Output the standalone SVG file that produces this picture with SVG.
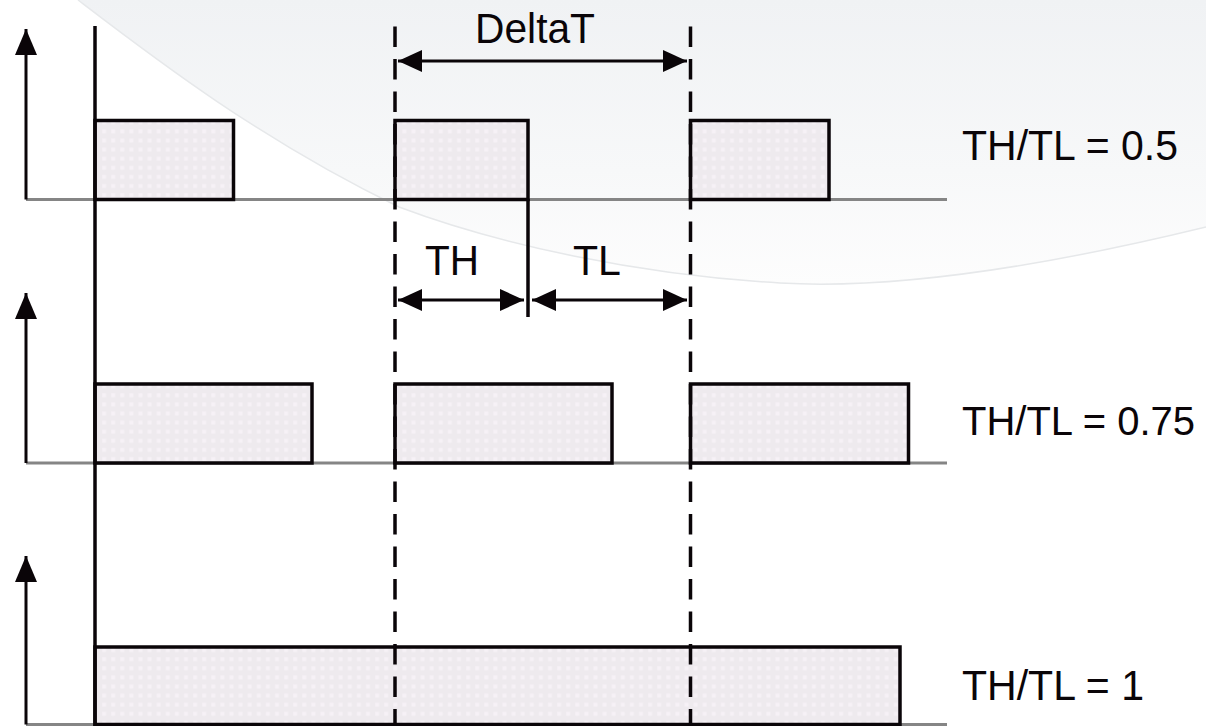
<svg xmlns="http://www.w3.org/2000/svg" width="1206" height="726" viewBox="0 0 1206 726">
  <defs>
    <linearGradient id="bgShade" x1="0" y1="0" x2="0" y2="1">
      <stop offset="0" stop-color="#f0f2f4"/>
      <stop offset="0.6" stop-color="#f7f8f9"/>
      <stop offset="1" stop-color="#fdfdfd"/>
    </linearGradient>
    <pattern id="dots" x="0" y="0" width="9.1" height="9.1" patternUnits="userSpaceOnUse">
      <rect width="9.1" height="9.1" fill="#eeeaee"/>
      <rect x="2" y="2" width="4" height="4" fill="#f6f1f6"/>
    </pattern>
    <marker id="dimHead" viewBox="0 0 24 24" refX="24" refY="12" markerWidth="24" markerHeight="24" markerUnits="userSpaceOnUse" orient="auto-start-reverse">
      <path d="M 0 1 L 24 12 L 0 23 Z" fill="#0a0508"/>
    </marker>
    <marker id="axisHead" viewBox="0 0 26 24" refX="26" refY="12" markerWidth="26" markerHeight="24" markerUnits="userSpaceOnUse" orient="auto">
      <path d="M 0 1 L 26 12 L 0 23 Z" fill="#0a0508"/>
    </marker>
  </defs>
  <style>
    .pulse { fill: url(#dots); stroke: #0a0508; stroke-width: 3.5; }
    .base { stroke: #858585; stroke-width: 3; fill: none; }
    .axis { stroke: #0a0508; stroke-width: 3; fill: none; }
    .solid { stroke: #0a0508; stroke-width: 3.5; fill: none; }
    .dash { stroke: #0a0508; stroke-width: 3.5; fill: none; stroke-dasharray: 20.5 12; }
    .dim { stroke: #0a0508; stroke-width: 3; fill: none; }
    .label { font-family: "Liberation Sans", Arial, sans-serif; font-size: 43px; fill: #0a0508; }
  </style>

  <!-- backdrop -->
  <g id="backdrop">
    <rect width="1206" height="726" fill="#ffffff"/>
    <path d="M 78 0 C 150 55, 260 140, 399 207 C 500 245, 640 275, 780 283 C 900 290, 1050 265, 1206 227 L 1206 0 Z" fill="url(#bgShade)"/>
    <path d="M 78 0 C 150 55, 260 140, 399 207 C 500 245, 640 275, 780 283 C 900 290, 1050 265, 1206 227" fill="none" stroke="#e6e8ea" stroke-width="1.5"/>
  </g>

  <!-- signal with TH/TL = 0.5 -->
  <g id="signal-050">
    <line class="base" x1="26" y1="199.5" x2="947" y2="199.5"/>
    <line class="axis" x1="26" y1="199.5" x2="26" y2="29" marker-end="url(#axisHead)"/>
    <rect class="pulse" x="95" y="120.5" width="138.5" height="79"/>
    <rect class="pulse" x="395" y="120.5" width="133" height="79"/>
    <rect class="pulse" x="690.5" y="120.5" width="138.5" height="79"/>
    <text class="label" x="962" y="160" textLength="216" lengthAdjust="spacingAndGlyphs">TH/TL = 0.5</text>
  </g>

  <!-- signal with TH/TL = 0.75 -->
  <g id="signal-075">
    <line class="base" x1="26" y1="463" x2="947" y2="463"/>
    <line class="axis" x1="26" y1="463" x2="26" y2="293" marker-end="url(#axisHead)"/>
    <rect class="pulse" x="95" y="384" width="217" height="79"/>
    <rect class="pulse" x="395" y="384" width="217" height="79"/>
    <rect class="pulse" x="690.5" y="384" width="218" height="79"/>
    <text class="label" x="962" y="435" style="font-size:40px">TH/TL = 0.75</text>
  </g>

  <!-- signal with TH/TL = 1 -->
  <g id="signal-100">
    <line class="base" x1="26" y1="724.5" x2="947" y2="724.5"/>
    <line class="axis" x1="26" y1="724.5" x2="26" y2="556" marker-end="url(#axisHead)"/>
    <rect class="pulse" x="95" y="647" width="805" height="77.5"/>
    <text class="label" x="962" y="700" textLength="182" lengthAdjust="spacingAndGlyphs">TH/TL = 1</text>
  </g>

  <!-- time reference line -->
  <g id="time-origin">
    <line class="solid" x1="95" y1="26" x2="95" y2="726" stroke-width="4"/>
  </g>

  <!-- period markers and dimension arrows -->
  <g id="connectors">
    <line class="dash" x1="395" y1="26.5" x2="395" y2="726"/>
    <line class="dash" x1="690.5" y1="26.5" x2="690.5" y2="726"/>
    <line class="solid" x1="528" y1="199" x2="528" y2="317" stroke-width="3"/>
    <line class="dim" x1="398" y1="61" x2="687" y2="61" marker-start="url(#dimHead)" marker-end="url(#dimHead)"/>
    <line class="dim" x1="398" y1="300" x2="524" y2="300" marker-start="url(#dimHead)" marker-end="url(#dimHead)"/>
    <line class="dim" x1="532" y1="300" x2="687" y2="300" marker-start="url(#dimHead)" marker-end="url(#dimHead)"/>
    <text class="label" x="475" y="43" textLength="120" lengthAdjust="spacingAndGlyphs">DeltaT</text>
    <text class="label" x="425" y="275" textLength="54" lengthAdjust="spacingAndGlyphs">TH</text>
    <text class="label" x="573" y="275" textLength="48" lengthAdjust="spacingAndGlyphs">TL</text>
  </g>
</svg>
